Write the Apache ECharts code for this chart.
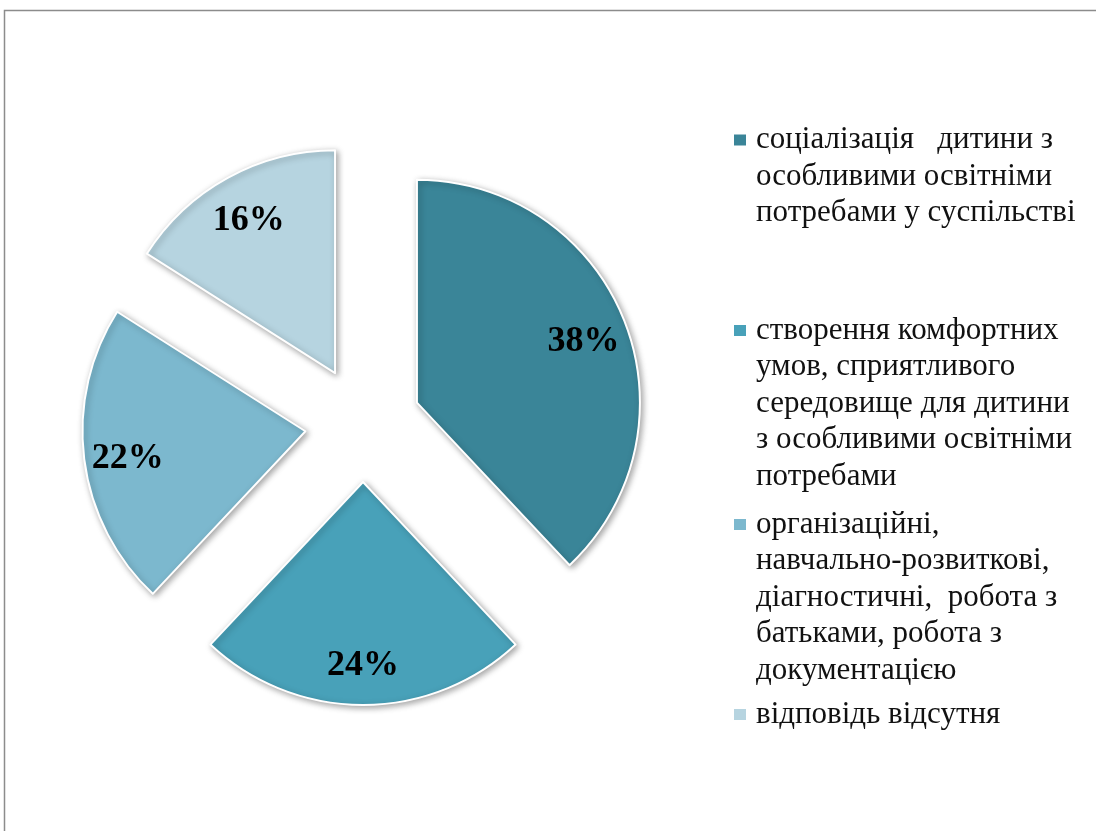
<!DOCTYPE html>
<html>
<head>
<meta charset="utf-8">
<script src="https://cdn.jsdelivr.net/npm/echarts@6/dist/echarts.min.js"></script>
<style>
html,body{margin:0;padding:0;background:#fff;}
#chart{width:1096px;height:831px;}
</style>
</head>
<body>
<div id="chart"></div>
<script>
// Data
const categories = [
  'соціалізація   дитини з\nособливими освітніми\nпотребами у суспільстві',
  'створення комфортних\nумов, сприятливого\nсередовище для дитини\nз особливими освітніми\nпотребами',
  'організаційні,\nнавчально-розвиткові,\nдіагностичні,  робота з\nбатьками, робота з\nдокументацією',
  'відповідь відсутня'
];
const values = [38, 24, 22, 16];
const colors = ['#3a8598', '#48a1b9', '#7cb8ce', '#b6d4e0'];

const CX = 363, CY = 424, R = 223, OFF = 58;
const LH = 36.5;
const iconCenters = [137.5, 328, 522, 712];

const pieData = categories.map((name, i) => ({
  name, value: values[i], selected: true,
  itemStyle: { color: colors[i] }
}));
const labelData = categories.map((name, i) => ({
  name, value: values[i], selected: true
}));

const legends = categories.map((name, i) => {
  const n = name.split('\n').length;
  const P = (n - 1) * LH;
  return {
    data: [name],
    orient: 'vertical',
    left: 732,
    top: iconCenters[i] - 13,
    padding: 0,
    icon: 'rect',
    itemWidth: 14,
    itemHeight: 13,
    selectedMode: false,
    formatter: nm => '{t|' + nm + '}',
    textStyle: {
      padding: [P, 0, 0, 4],
      rich: {
        t: {
          fontFamily: 'Liberation Serif',
          fontSize: 31,
          lineHeight: LH,
          color: '#111'
        }
      }
    }
  };
});

const chart = echarts.init(document.getElementById('chart'));
chart.setOption({
  animation: false,
  backgroundColor: '#fff',
  graphic: [{
    type: 'rect',
    shape: { x: 4.5, y: 10.5, width: 1200, height: 1000 },
    style: { fill: 'none', stroke: '#8c8c8c', lineWidth: 1.5 },
    silent: true
  }],
  legend: legends,
  series: [
    {
      type: 'pie',
      center: [CX, CY],
      radius: [0, R],
      startAngle: 90,
      clockwise: true,
      selectedMode: 'multiple',
      selectedOffset: OFF,
      avoidLabelOverlap: false,
      label: { show: false },
      labelLine: { show: false },
      emphasis: { disabled: true },
      itemStyle: {
        borderColor: '#ffffff',
        borderWidth: 2,
        shadowBlur: 6,
        shadowOffsetX: 2,
        shadowOffsetY: 2,
        shadowColor: 'rgba(0,0,0,0.35)'
      },
      data: pieData
    },
    {
      type: 'pie',
      center: [CX, CY],
      radius: [R * 0.58, R],
      startAngle: 90,
      clockwise: true,
      selectedMode: 'multiple',
      selectedOffset: OFF,
      silent: true,
      avoidLabelOverlap: false,
      itemStyle: { color: 'rgba(0,0,0,0)', borderWidth: 0 },
      emphasis: { disabled: true },
      labelLine: { show: false },
      labelLayout: { dy: 5 },
      label: {
        show: true,
        position: 'inside',
        formatter: '{c}%',
        fontFamily: 'Liberation Serif',
        fontWeight: 'bold',
        fontSize: 36,
        color: '#000'
      },
      data: labelData
    }
  ]
});
</script>
</body>
</html>
